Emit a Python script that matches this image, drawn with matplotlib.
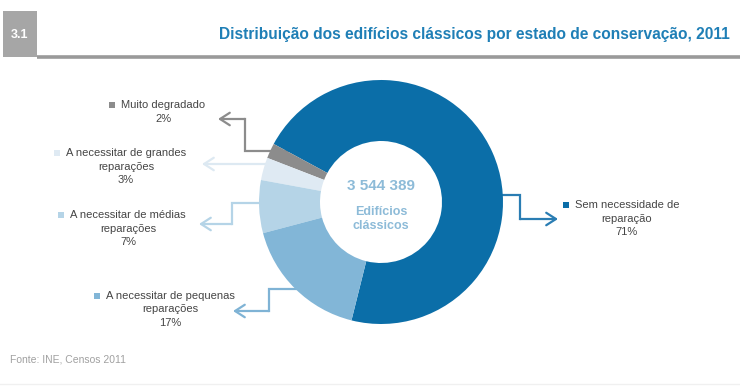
import matplotlib
matplotlib.use("Agg")
import matplotlib.pyplot as plt
from matplotlib.patches import Rectangle

# data
categories = ["Sem necessidade de reparação", "Muito degradado",
              "A necessitar de grandes reparações",
              "A necessitar de médias reparações",
              "A necessitar de pequenas reparações"]
shares = [71, 2, 3, 7, 17]
colors = ["#0b6ea8", "#8c8c8c", "#dfeaf3", "#b5d4e7", "#82b6d7"]
total_label = "3 544 389"
title = "Distribuição dos edifícios clássicos por estado de conservação, 2011"

# label blocks (text lines per slice), same order as shares
label_lines = [
    ["Sem necessidade de", "reparação", "71%"],
    ["Muito degradado", "2%"],
    ["A necessitar de grandes", "reparações", "3%"],
    ["A necessitar de médias", "reparações", "7%"],
    ["A necessitar de pequenas", "reparações", "17%"],
]
# block centre x, first line y (pixels)
label_pos = [(627, 205), (163, 105), (126, 153), (128, 215), (170, 296)]
# connector paths (pixels), last point is the arrow tip
paths = [
    [(470, 195), (520, 195), (520, 219), (558, 219)],
    [(300, 151), (245, 151), (245, 119), (218, 119)],
    [(300, 164), (202, 164)],
    [(300, 203), (232, 203), (232, 224), (199, 224)],
    [(320, 289), (269, 289), (269, 311), (233, 311)],
]
line_colors = ["#2a7db3", "#8c8c8c", "#dde9f2", "#b5d4e7", "#7fb3d5"]

W, H = 740, 389
fig = plt.figure(figsize=(W / 100, H / 100), dpi=100)
fig.patch.set_facecolor("white")

bg = fig.add_axes([0, 0, 1, 1])
bg.set_xlim(0, W)
bg.set_ylim(H, 0)
bg.axis("off")

# header
bg.add_patch(Rectangle((3, 11), 34, 46, color="#a6a6a6", lw=0))
bg.plot([37, W], [56.5, 56.5], color="#9a9a9a", lw=2.6, solid_capstyle="butt")
bg.text(20, 35, "3.1", color="white", fontsize=9, fontweight="bold",
        ha="center", va="center", family="Liberation Sans")
bg.text(219, 34, title, color="#1f7fb6", fontsize=11.2, fontweight="bold",
        ha="left", va="center", family="Liberation Sans")

# connectors
for pts, c in zip(paths, line_colors):
    xs = [p[0] for p in pts]
    ys = [p[1] for p in pts]
    bg.plot(xs[:-1], ys[:-1], color=c, lw=1.6, solid_joinstyle="miter")
    bg.annotate("", xy=pts[-1], xytext=pts[-2],
                arrowprops=dict(arrowstyle="->,head_length=0.7,head_width=0.45",
                                color=c, lw=1.6, shrinkA=0, shrinkB=0))

# labels
fig.canvas.draw()
renderer = fig.canvas.get_renderer()
for lines, (cx, y0), c in zip(label_lines, label_pos, colors):
    first = None
    for i, line in enumerate(lines):
        t = bg.text(cx, y0 + i * 13.5, line, fontsize=8, color="#454545",
                    ha="center", va="center", family="Liberation Sans")
        if i == 0:
            first = t
    bb = first.get_window_extent(renderer)
    x_left = bb.x0
    bg.add_patch(Rectangle((x_left - 12, y0 - 3.5), 6, 6, color=c, lw=0))

# footer
bg.text(10, 359, "Fonte: INE, Censos 2011", fontsize=7.5, color="#a0a0a0",
        ha="left", va="center", family="Liberation Sans")
bg.plot([0, W], [384, 384], color="#f0f0f0", lw=1)

# donut
cx, cy, r = 381, 202, 122
ax = fig.add_axes([(cx - r) / W, (H - cy - r) / H, 2 * r / W, 2 * r / H])
ax.pie(shares, colors=colors, startangle=-104, counterclock=True,
       wedgeprops=dict(width=0.5, linewidth=0))
ax.set_xlim(-1, 1)
ax.set_ylim(-1, 1)
ax.set_aspect("equal")
ax.axis("off")

ax.text(0, 0.13, total_label, fontsize=11, fontweight="bold", color="#8dbbd8",
        ha="center", va="center", family="Liberation Sans")
ax.text(0, -0.08, "Edifícios", fontsize=9, fontweight="bold", color="#8dbbd8",
        ha="center", va="center", family="Liberation Sans")
ax.text(0, -0.195, "clássicos", fontsize=9, fontweight="bold", color="#8dbbd8",
        ha="center", va="center", family="Liberation Sans")

fig.savefig("out.png", dpi=100)
